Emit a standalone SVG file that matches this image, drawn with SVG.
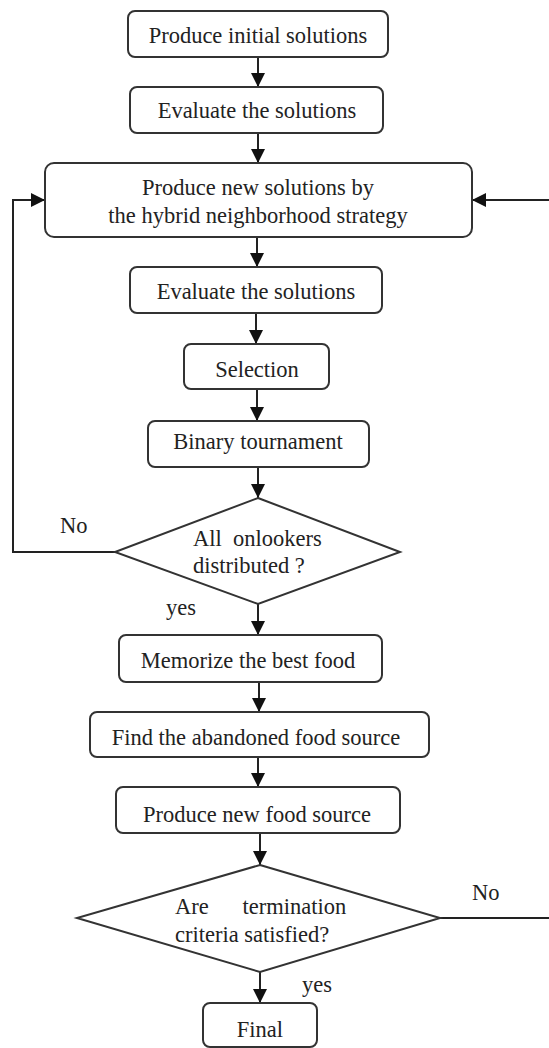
<svg xmlns="http://www.w3.org/2000/svg" width="549" height="1048" viewBox="0 0 549 1048">
<style>
.box{fill:#fff;stroke:#333;stroke-width:2}
.t{font-family:'Liberation Serif','Times New Roman',serif;font-size:22.5px;fill:#222;text-anchor:middle}
.ts{font-family:'Liberation Serif','Times New Roman',serif;font-size:22.5px;fill:#222;text-anchor:start}
.c{fill:none;stroke:#222;stroke-width:2}
</style>
<defs>
<marker id="ah" markerUnits="userSpaceOnUse" markerWidth="16" markerHeight="16" refX="14" refY="7" orient="auto">
<path d="M0,0 L14,7 L0,14 Z" fill="#111"/>
</marker>
</defs>
<rect width="549" height="1048" fill="#fff"/>
<g id="connectors">
<line class="c" x1="258" y1="57" x2="258" y2="87" marker-end="url(#ah)"/>
<line class="c" x1="258" y1="133" x2="258" y2="163" marker-end="url(#ah)"/>
<line class="c" x1="257" y1="237" x2="257" y2="267" marker-end="url(#ah)"/>
<line class="c" x1="256" y1="313" x2="256" y2="344" marker-end="url(#ah)"/>
<line class="c" x1="257" y1="389" x2="257" y2="421" marker-end="url(#ah)"/>
<line class="c" x1="258" y1="467" x2="258" y2="498" marker-end="url(#ah)"/>
<polyline class="c" points="115,552 13,552 13,200 45,200" marker-end="url(#ah)"/>
<line class="c" x1="549" y1="200" x2="472" y2="200" marker-end="url(#ah)"/>
<line class="c" x1="258" y1="604" x2="258" y2="635" marker-end="url(#ah)"/>
<line class="c" x1="259" y1="682" x2="259" y2="712" marker-end="url(#ah)"/>
<line class="c" x1="258" y1="757" x2="258" y2="787" marker-end="url(#ah)"/>
<line class="c" x1="260" y1="833" x2="260" y2="865" marker-end="url(#ah)"/>
<line class="c" x1="260" y1="972" x2="260" y2="1003" marker-end="url(#ah)"/>
<line class="c" x1="440" y1="918" x2="549" y2="918"/>
<text class="ts" x="60" y="533">No</text>
<text class="ts" x="166" y="615">yes</text>
<text class="ts" x="472" y="900">No</text>
<text class="ts" x="302" y="992">yes</text>
</g>
<g id="n1"><rect class="box" x="128" y="11" width="260" height="46" rx="7"/><text class="t" x="258" y="43">Produce initial solutions</text></g>
<g id="n2"><rect class="box" x="130" y="87" width="253" height="46" rx="7"/><text class="t" x="257" y="118">Evaluate the solutions</text></g>
<g id="n3"><rect class="box" x="45" y="163" width="427" height="74" rx="9"/><text class="t" x="258" y="195">Produce new solutions by</text><text class="t" x="258" y="223">the hybrid neighborhood strategy</text></g>
<g id="n4"><rect class="box" x="130" y="267" width="252" height="46" rx="7"/><text class="t" x="256" y="299">Evaluate the solutions</text></g>
<g id="n5"><rect class="box" x="184" y="344" width="145" height="45" rx="7"/><text class="t" x="257" y="377">Selection</text></g>
<g id="n6"><rect class="box" x="148" y="421" width="221" height="46" rx="7"/><text class="t" x="258" y="449">Binary tournament</text></g>
<g id="d1"><polygon class="box" points="258,498 400,552 258,604 115,552"/><text class="ts" x="193" y="546" xml:space="preserve">All  onlookers</text><text class="ts" x="193" y="573">distributed ?</text></g>
<g id="n7"><rect class="box" x="119" y="635" width="263" height="47" rx="7"/><text class="t" x="248" y="668">Memorize the best food</text></g>
<g id="n8"><rect class="box" x="90" y="712" width="339" height="45" rx="7"/><text class="t" x="256" y="745">Find the abandoned food source</text></g>
<g id="n9"><rect class="box" x="116" y="787" width="284" height="46" rx="7"/><text class="t" x="257" y="822">Produce new food source</text></g>
<g id="d2"><polygon class="box" points="260,865 440,918 260,972 77,918"/><text class="ts" x="175" y="914" xml:space="preserve">Are      termination</text><text class="ts" x="175" y="942">criteria satisfied?</text></g>
<g id="n10"><rect class="box" x="203" y="1003" width="114" height="44" rx="7"/><text class="t" x="260" y="1037">Final</text></g>
</svg>
